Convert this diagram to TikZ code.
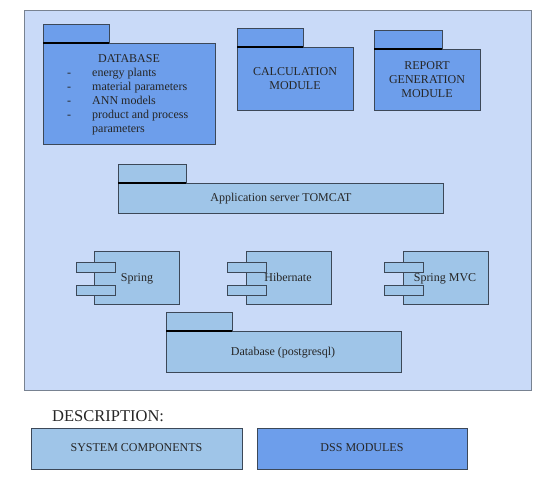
\documentclass[tikz,border=0pt]{standalone}
\usepackage{fontspec}
\setmainfont{Liberation Serif}
\definecolor{bgblue}{RGB}{201,218,248}
\definecolor{dssblue}{RGB}{109,158,235}
\definecolor{sysblue}{RGB}{159,197,232}
\definecolor{edge}{RGB}{60,72,88}
\definecolor{frame}{RGB}{120,130,145}
\tikzset{
  box/.style={draw=edge, line width=0.9pt},
  dss/.style={box, fill=dssblue},
  sys/.style={box, fill=sysblue},
  lbl/.style={font=\fontsize{12}{14}\selectfont, text=black!85, align=center, inner sep=0pt},
  item/.style={lbl, text height=9.5pt, text depth=2.5pt},
}
\begin{document}
\begin{tikzpicture}[x=1pt,y=-1pt]
\useasboundingbox (0,0) rectangle (550,478);
% outer frame
\draw[draw=frame, line width=1pt, fill=bgblue] (24,11) rectangle (531,391);

% DATABASE package
\draw[dss] (43,24) rectangle (109,43);
\draw[dss] (43,43) rectangle (215,144);
\draw[line width=1.2pt] (43,43) -- (109,43);
\node[item] (dbt) at (129,59) {DATABASE};
\foreach \y/\t in {73/energy plants, 87/material parameters, 101/ANN models, 115/product and process}{
  \node[item] at (69,\y) {-};
  \node[item, anchor=west] at (92,\y) {\t};
}
\node[item, anchor=west] (dbl) at (92,129) {parameters};

% CALCULATION
\draw[dss] (237,28) rectangle (303,47);
\draw[dss] (237,47) rectangle (353,110);
\draw[line width=1.2pt] (237,47) -- (303,47);
\node[lbl] (calc) at (295,79) {CALCULATION\\MODULE};

% REPORT
\draw[dss] (374,30) rectangle (442,49);
\draw[dss] (374,49) rectangle (480,110);
\draw[line width=1.2pt] (374,49) -- (442,49);
\node[lbl] (rep) at (427,80) {REPORT\\GENERATION\\MODULE};

% TOMCAT
\draw[sys] (118,164) rectangle (186,183);
\draw[sys] (118,183) rectangle (443,213);
\draw[line width=1.2pt] (118,183) -- (186,183);
\node[item] (tom) at (281,198) {Application server TOMCAT};

% components
\foreach \bx/\rx/\nm/\tx/\tt in {94/76/spr/137/Spring, 246/227/hib/288/Hibernate, 403/384/mvc/445/Spring MVC}{
  \draw[sys] (\bx,251) rectangle (\bx+85,304);
  \draw[sys] (\rx,262) rectangle (\rx+39,272);
  \draw[sys] (\rx,285) rectangle (\rx+39,295);
  \node[item] (\nm) at (\tx,278) {\tt};
}

% postgres
\draw[sys] (166,312) rectangle (232,331);
\draw[sys] (166,331) rectangle (401,372);
\draw[line width=1.2pt] (166,331) -- (232,331);
\node[item] (pg) at (283,352) {Database (postgresql)};

% description
\node[font=\fontsize{16.5}{18}\selectfont, anchor=west, text=black!85, inner sep=0pt] (desc) at (52,416) {DESCRIPTION:};
\draw[sys] (31,428) rectangle (242,469);
\node[item] (sysl) at (136.5,448.5) {SYSTEM COMPONENTS};
\draw[dss] (257,428) rectangle (467,469);
\node[item] (dssl) at (362,448.5) {DSS MODULES};
\end{tikzpicture}
\end{document}
